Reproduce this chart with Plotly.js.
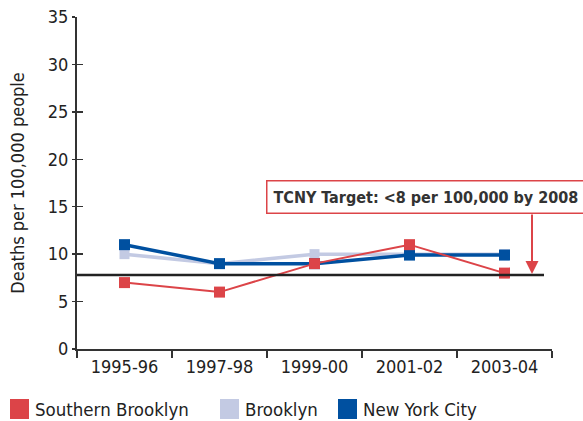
<!DOCTYPE html>
<html>
<head>
<meta charset="utf-8">
<script src="https://cdn.plot.ly/plotly-3.0.1.min.js"></script>
<style>html,body{margin:0;padding:0;background:#fff;}#chart{width:583px;height:421px;}</style>
</head>
<body>
<div id="chart"></div>
<script>
// ---- data ----
const categories = ["1995-96", "1997-98", "1999-00", "2001-02", "2003-04"];
const seriesNames = ["Southern Brooklyn", "Brooklyn", "New York City"];
const southernBrooklyn = [7, 6, 9, 11, 8];
const brooklyn = [10, 9, 10, 10, 10];
const newYorkCity = [11, 9, 9, 9.9, 9.9];
const targetValue = 7.8;
const targetLabel = "TCNY Target: <8 per 100,000 by 2008";
const yTitle = "Deaths per 100,000 people";
const yTicks = [0, 5, 10, 15, 20, 25, 30, 35];

// ---- style ----
const RED = "#DC4448", LIGHT = "#C3CAE3", BLUE = "#0050A0", AXIS = "#333333";
const FONT = "'DejaVu Sans Condensed', 'DejaVu Sans', sans-serif";

// plot area in pixels
const L = 77, R = 552, T = 17, B = 349;
const px2x = p => (p - L) / (R - L);
const py2y = p => (B - p) / (B - T);

const traces = [
  {x: categories, y: brooklyn, name: seriesNames[1], mode: "lines+markers",
   line: {color: LIGHT, width: 3.5}, marker: {symbol: "square", size: 10, color: LIGHT}},
  {x: categories, y: newYorkCity, name: seriesNames[2], mode: "lines+markers",
   line: {color: BLUE, width: 3.5}, marker: {symbol: "square", size: 11, color: BLUE}},
  {x: categories, y: southernBrooklyn, name: seriesNames[0], mode: "lines+markers",
   line: {color: RED, width: 2}, marker: {symbol: "square", size: 11, color: RED}},
  // overlay axis for the inside half of the y ticks
  {x: categories, y: [null, null, null, null, null], yaxis: "y2", showlegend: false, hoverinfo: "skip"}
];

const legendColors = [RED, LIGHT, BLUE];
const legendSquareX = [10, 220, 338];
const targetPx = B - targetValue * (B - T) / 35;
const shapes = [
  {type: "line", xref: "paper", yref: "y", x0: 0, x1: px2x(544), y0: targetValue, y1: targetValue,
   line: {color: "#222222", width: 2.5}, layer: "above"}
];
const annotations = [
  {xref: "paper", yref: "paper", x: px2x(266), y: py2y(196.5), xanchor: "left", yanchor: "middle",
   text: "<b>" + targetLabel.replace("<", "&lt;") + "</b>", showarrow: false,
   font: {family: FONT, size: 16, color: "#333333"}, bgcolor: "#ffffff",
   bordercolor: RED, borderwidth: 1.5, borderpad: 6},
  {xref: "paper", yref: "y", x: px2x(532), y: targetValue, text: "", showarrow: true,
   ax: 0, ay: -(targetPx - 213), arrowcolor: RED, arrowwidth: 2, arrowhead: 2, arrowsize: 1.3, standoff: 1}
];

seriesNames.forEach((n, i) => {
  const x0 = legendSquareX[i];
  shapes.push({type: "rect", xref: "paper", yref: "paper",
    x0: px2x(x0), x1: px2x(x0 + 19), y0: py2y(399), y1: py2y(419),
    fillcolor: legendColors[i], line: {width: 0}});
  annotations.push({xref: "paper", yref: "paper", x: px2x(x0 + 23), y: py2y(409.5),
    xanchor: "left", yanchor: "middle", text: n, showarrow: false,
    font: {family: FONT, size: 18.5, color: "#222222"}});
});

const layout = {
  width: 583, height: 421,
  margin: {l: L, r: 583 - R, t: T, b: 421 - B},
  paper_bgcolor: "#ffffff", plot_bgcolor: "#ffffff",
  showlegend: false,
  font: {family: FONT, color: "#222222"},
  xaxis: {type: "category", range: [-0.5, 4.5], tickson: "boundaries",
    showline: true, linecolor: AXIS, linewidth: 2, ticks: "outside", ticklen: 7,
    tickwidth: 1.5, tickcolor: AXIS, showgrid: false, zeroline: false,
    tickfont: {family: FONT, size: 18, color: "#222222"}, fixedrange: true},
  yaxis: {range: [0, 35], tickvals: yTicks, showline: true, linecolor: AXIS, linewidth: 2,
    ticks: "outside", ticklen: 3, tickwidth: 1.5, tickcolor: AXIS, showgrid: false, zeroline: false,
    tickfont: {family: FONT, size: 18, color: "#222222"},
    title: {text: yTitle, font: {family: FONT, size: 18, color: "#222222"}, standoff: 18}},
  yaxis2: {range: [0, 35], tickvals: yTicks, overlaying: "y", side: "left", showline: false,
    ticks: "inside", ticklen: 6, tickwidth: 1.5, tickcolor: AXIS, showticklabels: false,
    showgrid: false, zeroline: false},
  shapes: shapes,
  annotations: annotations
};

Plotly.newPlot("chart", traces, layout, {displayModeBar: false, staticPlot: true});
</script>
</body>
</html>
